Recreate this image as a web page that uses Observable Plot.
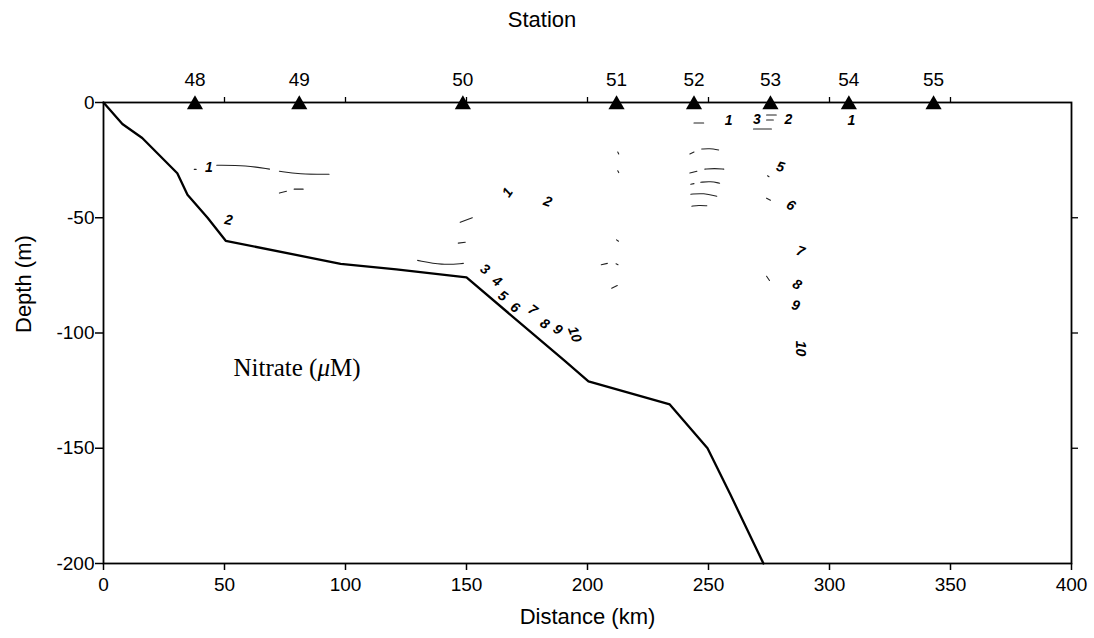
<!DOCTYPE html>
<html>
<head>
<meta charset="utf-8">
<script src="https://cdn.jsdelivr.net/npm/d3@7"></script>
<script src="https://cdn.jsdelivr.net/npm/@observablehq/plot@0.6"></script>
<style>
  html, body { margin: 0; padding: 0; background: #fff; }
  #title { width: 1084px; height: 40px; line-height: 40px; text-align: center;
           font-family: "Liberation Sans", Arial, sans-serif; font-size: 22px; color: #000; }
</style>
</head>
<body>
<div id="title">Station</div>
<div id="chart"></div>
<script>
// ---- Data ----
const stationNames = ["48", "49", "50", "51", "52", "53", "54", "55"];
const stationKm = [37.8, 80.9, 148.5, 212, 244, 275.6, 308, 343];

const bottomKm = [0, 7.8, 16, 30.5, 34.7, 43, 50.5, 98, 121, 150, 190.5, 200.4, 234, 249.6, 259, 272.7];
const bottomDepth = [0, -9.3, -15.4, -30.7, -40, -50, -60, -70, -72.4, -75.9, -112, -121, -131, -150, -170, -200];

// contour fragments (id, km, depth)
const segId = [
  1,1,1, 2,2,2, 3,3, 4,4, 30,30, 5,5,5, 6,6, 7,7,
  8,8, 9,9, 10,10, 11,11, 12,12, 13,13,
  14,14, 15,15,15, 16,16, 17,17,17, 18,18, 19,19,19, 20,20, 21,21,21, 22,22,22,
  23,23, 24,24, 25,25, 26,26, 27,27, 28,28
];
const segKm = [
  46.8,59.1,68.6, 72.7,80.9,93.2, 72.7,75.6, 78.8,82.5, 37.5,38.3, 129.8,140,148.7, 147.4,152.4, 146.6,149.5,
  212.5,212.9, 212.5,212.9, 212,212.8, 205.7,208.2, 211.8,212.6, 210,212.3,
  244,248, 247.2,250.5,254.2, 242.3,244, 248.5,252.5,256.3, 242.3,245.2, 246.8,250.8,254.6, 242.7,244, 242.7,248,253.4, 243.1,246,249.3,
  268.6,276, 274,278, 274,276.8, 274.4,275, 274,275.6, 274,275.2
];
const segDepth = [
  -27.2,-27.3,-28.9, -29.8,-31.1,-31.1, -39.3,-38.5, -37.6,-37.6, -29,-29, -68.5,-70.6,-69.8, -52,-50, -61,-60.6,
  -21.5,-22.3, -29.6,-30.4, -59.6,-60.2, -70.4,-69.8, -70,-70.4, -80.6,-79.4,
  -8.9,-8.9, -20.2,-19.9,-20.6, -22.3,-21.5, -28.9,-28.6,-28.9, -30.6,-29.8, -34.6,-34.2,-35, -35.5,-35.2, -39.8,-39.3,-40.7, -45,-44.6,-44.8,
  -11.5,-11.5, -5.4,-5.4, -7.6,-7.6, -31.8,-32.2, -41.5,-42.4, -75.4,-77.2
];

// contour labels
const labelText = ["1","2","1","2","3","4","5","6","7","8","9","10","1","3","2","1","5","6","7","8","9","10"];
const labelKm = [43.5, 51.7, 167, 183.6, 157.7, 162.6, 165, 170, 177.4, 182.3, 187.7, 194.7, 258.3, 270, 283, 309, 279.7, 284, 288, 286.6, 286, 288];
const labelDepth = [-28, -51, -39, -43, -72.4, -77.6, -84, -89, -90, -96, -98.5, -100.6, -7.7, -7.2, -7.2, -7.7, -28, -44.6, -64.6, -79, -88, -106.7];
const labelAngle = [0, 10, -55, 20, 35, 35, 35, 35, 35, 35, 35, 70, 0, 0, 0, 0, 15, 30, 20, 30, 15, 90];

const xTicks = [0, 50, 100, 150, 200, 250, 300, 350, 400];
const yTicks = [-200, -150, -100, -50, 0];

// ---- Build tables ----
const stations = stationNames.map((s, i) => ({name: s, km: stationKm[i], depth: 0}));
const bottom = bottomKm.map((k, i) => ({km: k, depth: bottomDepth[i]}));
const segs = segId.map((id, i) => ({id, km: segKm[i], depth: segDepth[i]}));
const labels = labelText.map((t, i) => ({t, km: labelKm[i], depth: labelDepth[i], a: labelAngle[i]}));

const plot = Plot.plot({
  width: 1094,
  height: 598,
  marginLeft: 103,
  marginRight: 23,
  marginTop: 62,
  marginBottom: 75,
  style: {fontFamily: "'Liberation Sans', Arial, sans-serif", fontSize: "19px", color: "#000", background: "#fff"},
  x: {domain: [0, 400]},
  y: {domain: [-200, 0]},
  marks: [
    Plot.frame({stroke: "#000", strokeWidth: 1.8}),
    Plot.axisY({anchor: "left", ticks: yTicks, tickSize: 8, tickPadding: 1, tickFormat: d => String(d), label: null, strokeWidth: 1.5, fontSize: 19}),
    Plot.axisY({anchor: "right", ticks: [-150, -100, -50], tickSize: 6, tickFormat: () => "", label: null, strokeWidth: 1.3}),
    Plot.axisX({anchor: "bottom", ticks: xTicks, tickSize: 7, tickPadding: 7, tickFormat: d => String(d), label: null, strokeWidth: 1.5, fontSize: 19}),
    Plot.axisX({anchor: "top", ticks: [50, 100, 150, 200, 250, 300, 350], tickSize: 6, tickFormat: () => "", label: null, strokeWidth: 1.3}),
    Plot.text(["Depth (m)"], {frameAnchor: "left", dx: -80, rotate: -90, fontSize: 22}),
    Plot.text(["Distance (km)"], {frameAnchor: "bottom", dy: 60, fontSize: 22}),
    Plot.line(segs, {x: "km", y: "depth", z: "id", stroke: "#222", strokeWidth: 1.1, curve: "basis"}),
    Plot.line(bottom, {x: "km", y: "depth", stroke: "#000", strokeWidth: 2.3}),
    Plot.text(labels, {x: "km", y: "depth", text: "t", rotate: "a", fontSize: 14, fontWeight: "bold", fontStyle: "italic", fill: "#000"}),
    Plot.dot(stations, {x: "km", y: "depth", symbol: "triangle", r: 6, fill: "#000", stroke: "none", dy: 2}),
    Plot.text(stations, {x: "km", y: "depth", text: "name", dy: -23, fontSize: 19}),
    Plot.text(["Nitrate (μM)"], {x: [53.7], y: [-115], textAnchor: "start", fontSize: 25, fontFamily: "'Liberation Serif', 'Times New Roman', serif"})
  ]
});

document.getElementById("chart").appendChild(plot);

// italic mu in the Nitrate label
d3.select(plot).selectAll("text").each(function() {
  if (this.textContent === "Nitrate (μM)") {
    const t = d3.select(this);
    t.text("");
    t.append("tspan").text("Nitrate (");
    t.append("tspan").attr("font-style", "italic").text("μ");
    t.append("tspan").text("M)");
  }
});
</script>
</body>
</html>
